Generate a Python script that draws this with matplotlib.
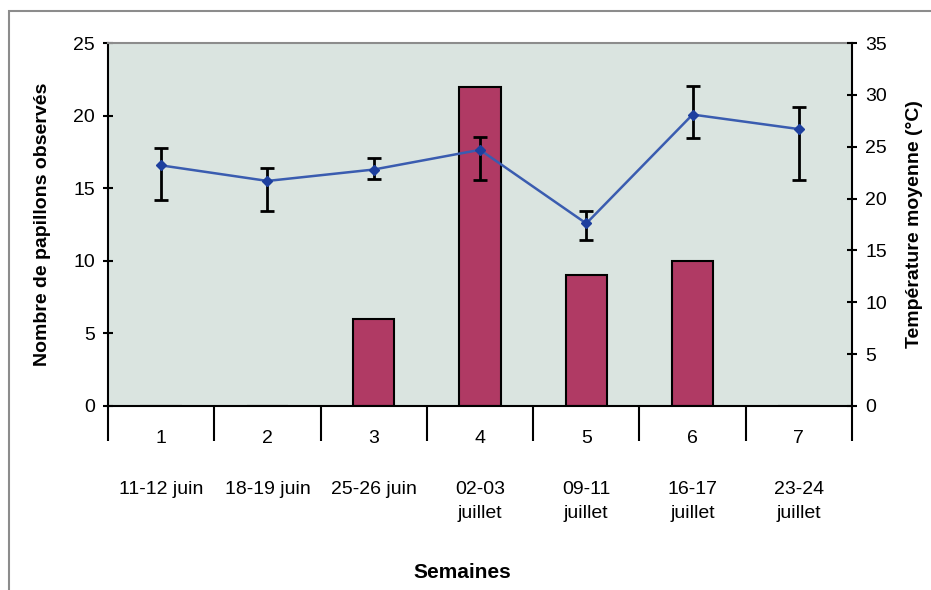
import matplotlib.pyplot as plt
from matplotlib.patches import Rectangle
import matplotlib.transforms as mtransforms

plt.rcParams['font.family'] = ['Liberation Sans', 'DejaVu Sans']

# donnees
semaines = [1, 2, 3, 4, 5, 6, 7]
dates = ['11-12 juin', '18-19 juin', '25-26 juin', '02-03\njuillet',
         '09-11\njuillet', '16-17\njuillet', '23-24\njuillet']
papillons = [0, 0, 6, 22, 9, 10, 0]
temperature = [23.2, 21.7, 22.8, 24.7, 17.6, 28.1, 26.7]
temp_haut = [24.9, 22.9, 23.9, 25.9, 18.8, 30.9, 28.8]
temp_bas = [19.9, 18.8, 21.9, 21.8, 16.0, 25.8, 21.8]

fig = plt.figure(figsize=(9.31, 5.90), dpi=100)
fig.patches.append(Rectangle((9 / 931, -0.05), 1.1, 1 - 11 / 590 + 0.05,
                             transform=fig.transFigure, fill=False,
                             edgecolor='#8c8c8c', linewidth=1.5))

ax = fig.add_axes([108 / 931, 1 - 406 / 590, (852 - 108) / 931, (406 - 43) / 590])
ax.set_facecolor('#dae4e0')

x = list(range(len(semaines)))
ax.bar(x, papillons, width=0.39, color='#b03a64', edgecolor='black', linewidth=1.5, zorder=2)

ax.set_xlim(-0.5, len(semaines) - 0.5)
ax.set_ylim(0, 25)
ax.set_yticks([0, 5, 10, 15, 20, 25])
ax.tick_params(axis='y', direction='inout', length=7, width=1.5, labelsize=14, pad=6)

# graduations de l'axe x aux limites des categories
ax.set_xticks([i - 0.5 for i in range(len(semaines) + 1)])
ax.set_xticklabels([])
ax.tick_params(axis='x', which='major', direction='out', length=25, width=1.5)
ax.set_xticks(x, minor=True)
ax.set_xticklabels([str(s) for s in semaines], minor=True)
ax.tick_params(axis='x', which='minor', length=0, labelsize=14, pad=17)

trans = mtransforms.blended_transform_factory(ax.transData, fig.transFigure)
for i, d in enumerate(dates):
    ax.text(i, 1 - 481 / 590, d, transform=trans, ha='center', va='top',
            fontsize=14, linespacing=1.55)

for side in ['left', 'right', 'bottom']:
    ax.spines[side].set_linewidth(1.5)
    ax.spines[side].set_color('black')
ax.spines['top'].set_color('#8c8c8c')
ax.spines['top'].set_linewidth(1.5)

ax.set_ylabel('Nombre de papillons observés', fontsize=14, fontweight='bold', labelpad=16)
fig.text(462 / 931, 1 - 573 / 590, 'Semaines', ha='center', va='center',
         fontsize=15, fontweight='bold')

ax2 = ax.twinx()
ax2.set_ylim(0, 35)
ax2.set_yticks([0, 5, 10, 15, 20, 25, 30, 35])
ax2.tick_params(axis='y', direction='inout', length=7, width=1.5, labelsize=14, pad=6)
yerr = [[t - b for t, b in zip(temperature, temp_bas)],
        [h - t for t, h in zip(temperature, temp_haut)]]
ax2.errorbar(x, temperature, yerr=yerr, color='#3a5cb0', linewidth=1.8,
             marker='D', markersize=5, markerfacecolor='#1d3f9e', markeredgecolor='#1d3f9e',
             ecolor='black', elinewidth=2, capsize=5, capthick=2, zorder=3)
ax2.set_ylabel('Température moyenne (°C)', fontsize=14, fontweight='bold', labelpad=14)
for side in ['left', 'right', 'bottom', 'top']:
    ax2.spines[side].set_visible(False)

fig.savefig('out.png', dpi=100)
